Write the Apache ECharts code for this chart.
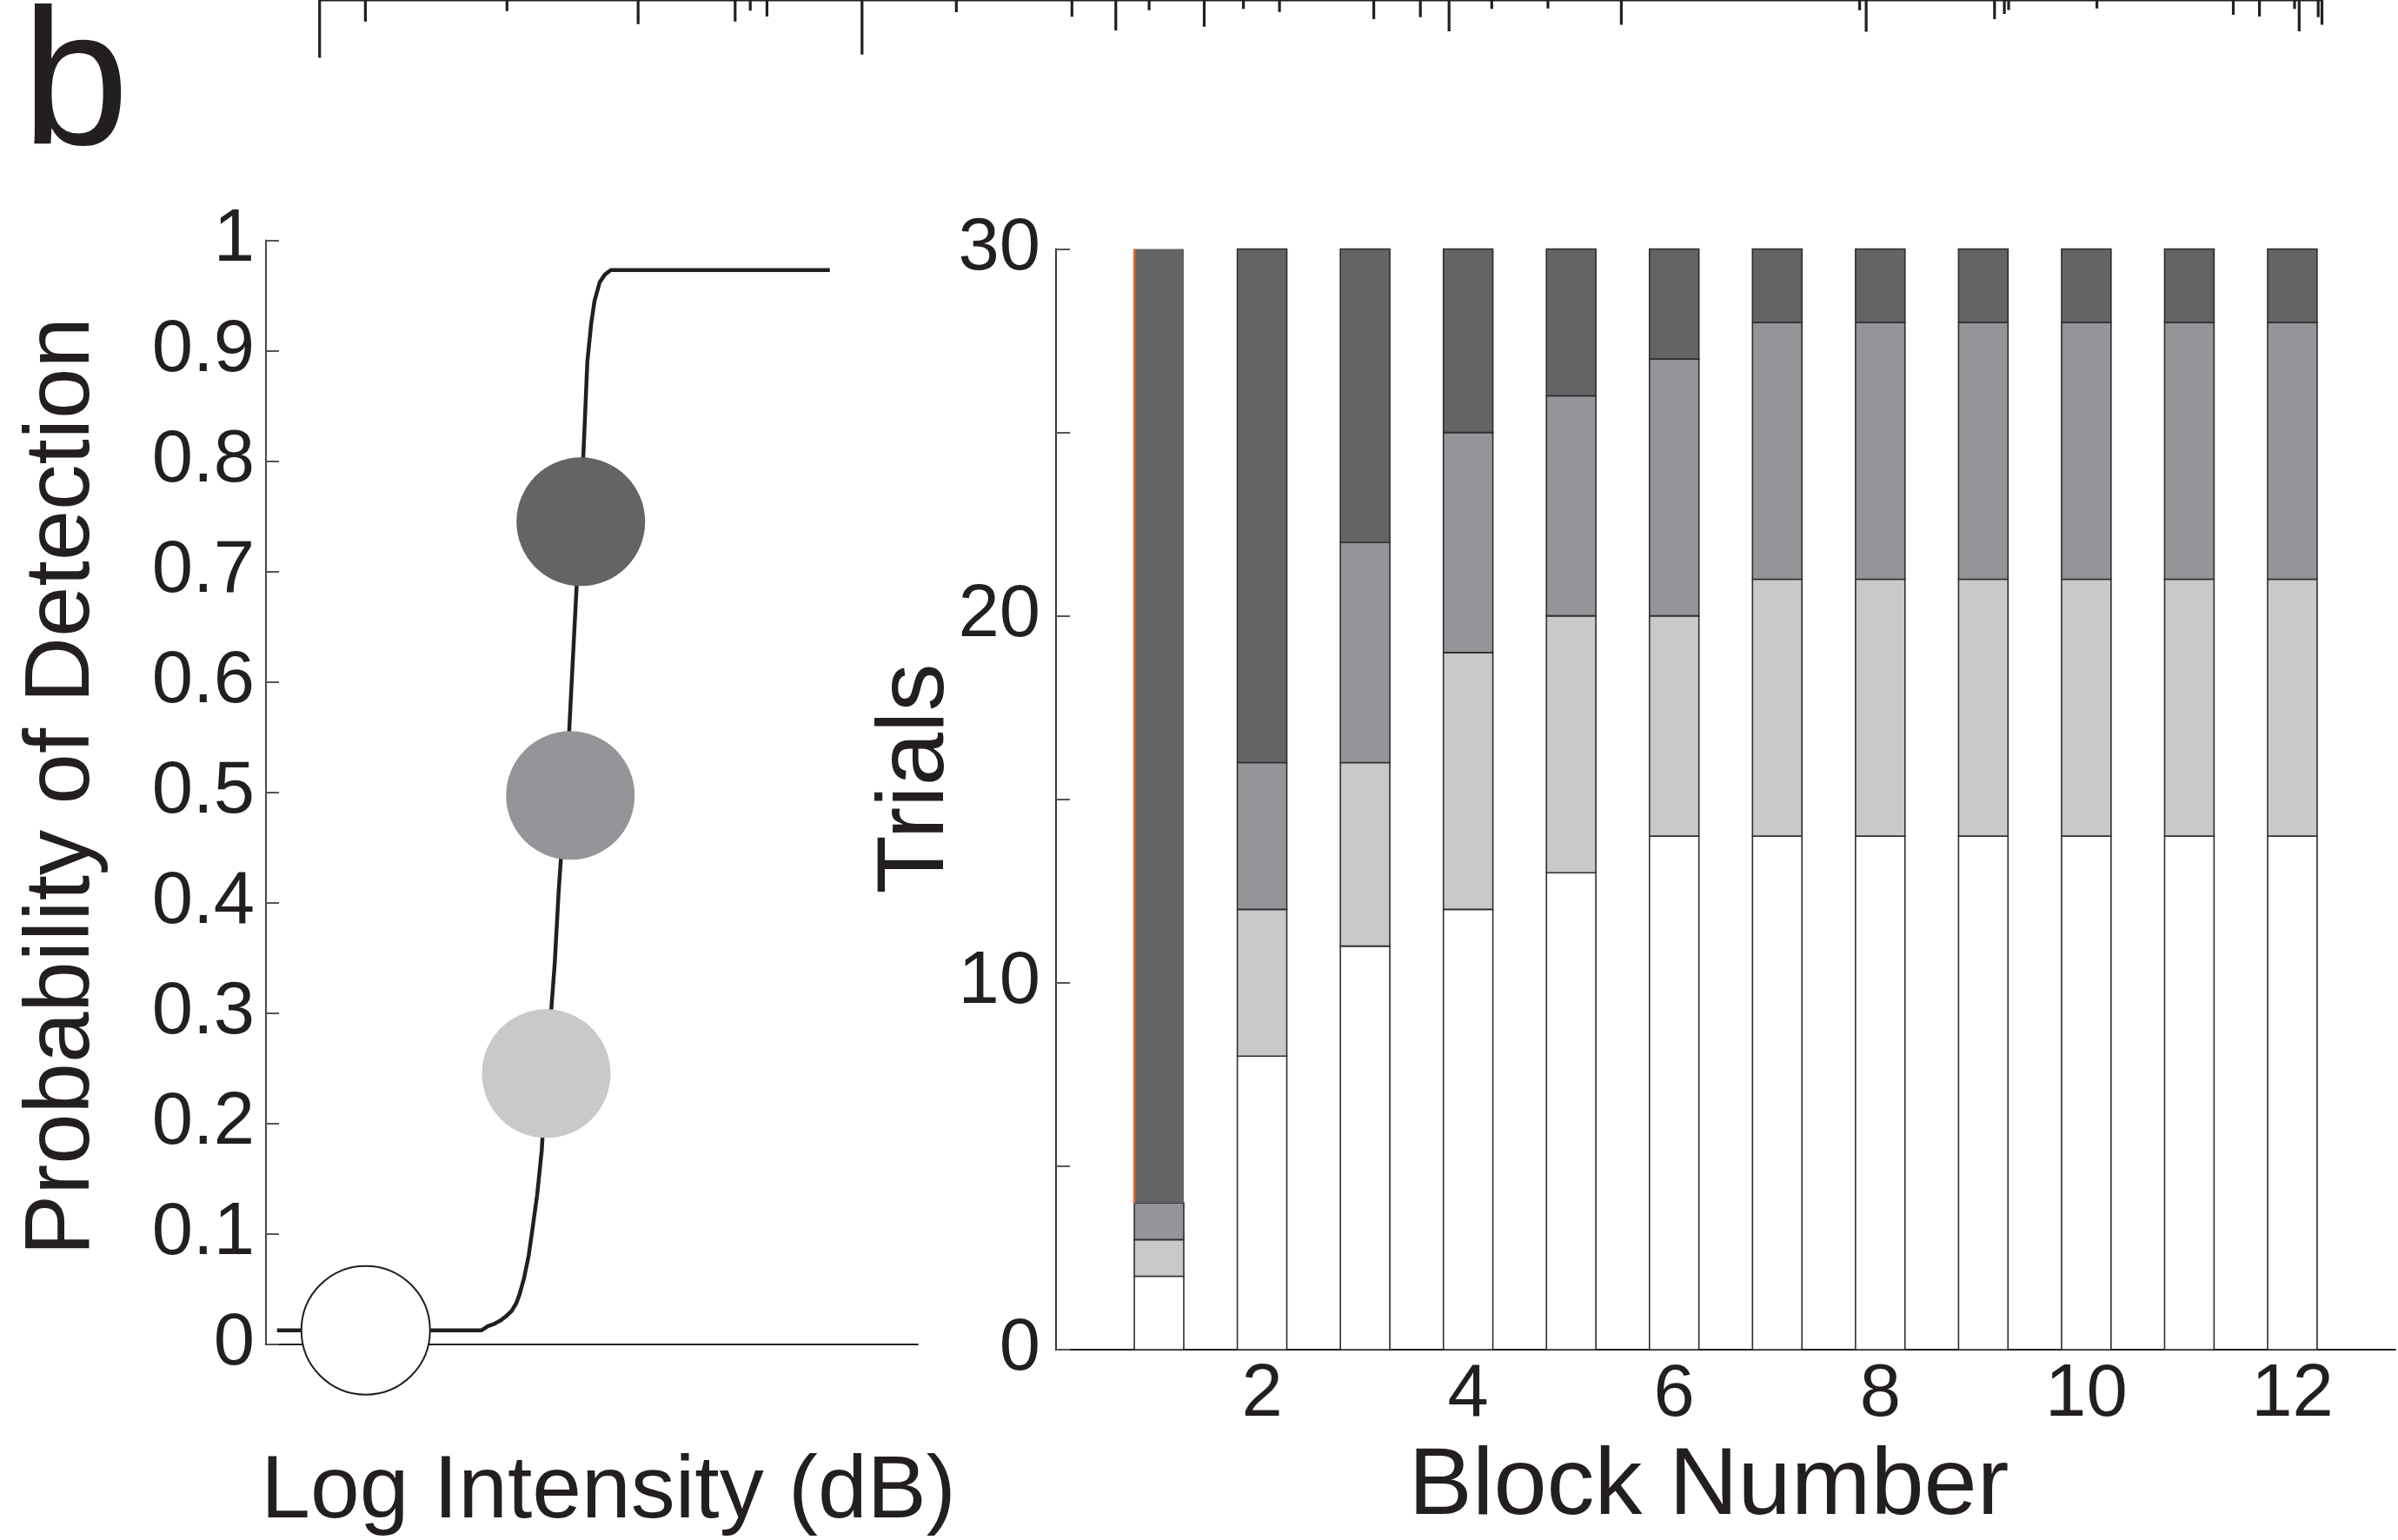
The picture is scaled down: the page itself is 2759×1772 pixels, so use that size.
<!DOCTYPE html>
<html>
<head>
<meta charset="utf-8">
<title>Detection probability and trials per block</title>
<script src="https://cdn.jsdelivr.net/npm/echarts@6/dist/echarts.min.js"></script>
<style>
  html, body { margin: 0; padding: 0; background: #fff; }
  #main { width: 2759px; height: 1772px; }
</style>
</head>
<body>
<div id="main"></div>
<script>
// psychometric curve, x in arbitrary log-intensity units
var curveX = [1.7, 33.1, 34.0, 34.9, 35.9, 36.8, 37.7, 38.4, 38.9, 39.6, 40.3, 40.9, 41.6, 42.3, 42.9,
  43.6, 44.3, 44.9, 45.6, 46.3, 46.9, 47.6, 48.3, 48.8, 49.3, 49.9, 50.4, 51.2, 52.0, 52.9, 86.5];
var curveP = [0.0125, 0.0125, 0.016, 0.018, 0.021, 0.025, 0.03, 0.037, 0.045, 0.06, 0.08, 0.105, 0.135, 0.175, 0.235,
  0.29, 0.345, 0.41, 0.47, 0.53, 0.6, 0.68, 0.755, 0.82, 0.89, 0.925, 0.945, 0.962, 0.969, 0.973, 0.973];

// the four stimulus levels (circles)
var levelX = [15.3, 43.0, 46.7, 48.3];
var levelP = [0.0125, 0.245, 0.497, 0.745];

// trials per block, stacked bottom to top
var blocks = [1, 2, 3, 4, 5, 6, 7, 8, 9, 10, 11, 12];
var whiteTrials = [2, 8, 11, 12, 13, 14, 14, 14, 14, 14, 14, 14];
var lightTrials = [1, 4, 5, 7, 7, 6, 7, 7, 7, 7, 7, 7];
var midTrials = [1, 4, 6, 6, 6, 7, 7, 7, 7, 7, 7, 7];
var darkTrials = [26, 14, 8, 5, 4, 3, 2, 2, 2, 2, 2, 2];

// cropped trace from the panel above (time, amplitude below baseline)
var spikeT = [36.77, 42.04, 58.33, 73.42, 84.58, 86.32, 88.24, 99.18, 110.03, 123.33, 128.38, 132.21, 138.55,
  143.06, 147.21, 158.06, 163.42, 166.72, 171.63, 178.1, 186.54, 213.96, 214.71, 229.48, 230.61, 231.1,
  241.26, 256.95, 259.96, 264.0, 264.53, 266.72, 267.15];
var spikeAmp = [-76, -28.3, -14.7, -31.7, -28.3, -14, -21.7, -71.7, -16, -22, -40, -13.3, -35,
  -11.7, -15.7, -25, -22.7, -41, -11.7, -11, -32.7, -13.3, -41.7, -25, -18.3, -13,
  -11, -19.3, -21.7, -11.7, -41, -22.7, -32.7];

var colors = ['#ffffff', '#c8c9cb', '#939598', '#636466'];
var ink = '#231f20';
var font = '"Liberation Sans", Arial, Helvetica, sans-serif';
var barW = 0.48;

var chart = echarts.init(document.getElementById('main'));

// trace as vertical strokes down from an off-screen baseline
var traceData = [];
spikeT.forEach(function (t, i) {
  traceData.push([t, 0], [t, spikeAmp[i]], [t, 0]);
});

// stacked segments
function segSeries(counts, base, colorIdx) {
  return {
    type: 'custom',
    xAxisIndex: 1,
    yAxisIndex: 1,
    z: 3,
    data: blocks.map(function (b, i) { return [b, base[i], base[i] + counts[i]]; }),
    encode: { x: 0, y: [1, 2] },
    renderItem: function (params, api) {
      var x = api.value(0);
      var p0 = api.coord([x - barW / 2, api.value(2)]);
      var p1 = api.coord([x + barW / 2, api.value(1)]);
      var rect = {
        type: 'rect',
        shape: { x: p0[0], y: p0[1], width: p1[0] - p0[0], height: p1[1] - p0[1] },
        style: { fill: colors[colorIdx], stroke: '#2e2e2e', lineWidth: 1.6 }
      };
      // first block's top segment: no outline, orange left edge
      if (colorIdx === 3 && params.dataIndex === 0) {
        rect.style = { fill: colors[colorIdx] };
        return {
          type: 'group',
          children: [rect, {
            type: 'line',
            shape: { x1: p0[0], y1: p0[1], x2: p0[0], y2: p1[1] },
            style: { stroke: '#f26522', lineWidth: 2.5 }
          }]
        };
      }
      return rect;
    }
  };
}

var base0 = blocks.map(function () { return 0; });
var base1 = whiteTrials.slice();
var base2 = base1.map(function (v, i) { return v + lightTrials[i]; });
var base3 = base2.map(function (v, i) { return v + midTrials[i]; });

var labelStyle = { color: ink, fontFamily: font, fontSize: 85 };

var option = {
  backgroundColor: '#ffffff',
  animation: false,
  grid: [
    { left: 306, top: 276.5, width: 750, height: 1270 },
    { left: 1215, top: 286.5, width: 1551.7, height: 1266.5 },
    { left: 0, top: -10, width: 2759, height: 80 }
  ],
  xAxis: [
    {
      gridIndex: 0, type: 'value', min: 0, max: 100,
      axisLine: { lineStyle: { color: ink, width: 2 } },
      axisTick: { show: false }, axisLabel: { show: false }, splitLine: { show: false }
    },
    {
      gridIndex: 1, type: 'value', min: 0, max: 13, interval: 2,
      axisLine: { lineStyle: { color: ink, width: 2 } },
      axisTick: { show: false },
      axisLabel: Object.assign({
        margin: 10,
        formatter: function (v) { return (v > 0 && v % 2 === 0) ? String(v) : ''; }
      }, labelStyle),
      splitLine: { show: false }
    },
    {
      gridIndex: 2, type: 'value', min: 0, max: 275.9, show: false
    }
  ],
  yAxis: [
    {
      gridIndex: 0, type: 'value', min: 0, max: 1, interval: 0.1,
      axisLine: { show: true, lineStyle: { color: '#4a4a4a', width: 2 } },
      axisTick: { show: true, inside: true, length: 15, lineStyle: { color: '#555', width: 2 } },
      axisLabel: Object.assign({ margin: 13 }, labelStyle),
      splitLine: { show: false }
    },
    {
      gridIndex: 1, type: 'value', min: 0, max: 30, interval: 5,
      axisLine: { show: true, lineStyle: { color: '#3a3a3a', width: 2 } },
      axisTick: { show: true, inside: true, length: 16, lineStyle: { color: '#555', width: 2 } },
      axisLabel: Object.assign({
        margin: 18,
        formatter: function (v) { return v % 10 === 0 ? String(v) : ''; }
      }, labelStyle),
      splitLine: { show: false }
    },
    {
      gridIndex: 2, type: 'value', min: -80, max: 0, show: false
    }
  ],
  series: [
    {
      type: 'line',
      xAxisIndex: 0, yAxisIndex: 0,
      data: curveX.map(function (x, i) { return [x, curveP[i]]; }),
      showSymbol: false,
      lineStyle: { color: ink, width: 4.5 },
      z: 2
    },
    {
      type: 'scatter',
      xAxisIndex: 0, yAxisIndex: 0,
      symbolSize: 148,
      data: levelX.map(function (x, i) {
        return {
          value: [x, levelP[i]],
          itemStyle: i === 0
            ? { color: colors[0], borderColor: ink, borderWidth: 2 }
            : { color: colors[i], borderWidth: 0 }
        };
      }),
      itemStyle: { opacity: 1 },
      z: 4
    },
    segSeries(whiteTrials, base0, 0),
    segSeries(lightTrials, base1, 1),
    segSeries(midTrials, base2, 2),
    segSeries(darkTrials, base3, 3),
    {
      type: 'line',
      xAxisIndex: 2, yAxisIndex: 2,
      data: traceData,
      showSymbol: false,
      lineStyle: { color: ink, width: 3.2 }
    }
  ],
  graphic: [
    {
      type: 'text', x: 25, y: 104,
      style: { text: 'b', font: 'normal 222px ' + font, fill: ink,
        textAlign: 'left', textVerticalAlign: 'middle', align: 'left', verticalAlign: 'middle' }
    },
    {
      type: 'text', x: 73, y: 905, rotation: Math.PI / 2,
      style: { text: 'Probability of Detection', font: 'normal 105px ' + font, fill: ink,
        textAlign: 'center', textVerticalAlign: 'middle', align: 'center', verticalAlign: 'middle' }
    },
    {
      type: 'text', x: 700, y: 1718,
      style: { text: 'Log Intensity (dB)', font: 'normal 102px ' + font, fill: ink,
        textAlign: 'center', textVerticalAlign: 'middle', align: 'center', verticalAlign: 'middle' }
    },
    {
      type: 'text', x: 1055, y: 896, rotation: Math.PI / 2,
      style: { text: 'Trials', font: 'normal 110px ' + font, fill: ink,
        textAlign: 'center', textVerticalAlign: 'middle', align: 'center', verticalAlign: 'middle' }
    },
    {
      type: 'text', x: 1966, y: 1712,
      style: { text: 'Block Number', font: 'normal 110px ' + font, fill: ink,
        textAlign: 'center', textVerticalAlign: 'middle', align: 'center', verticalAlign: 'middle' }
    }
  ]
};

chart.setOption(option);
</script>
</body>
</html>
